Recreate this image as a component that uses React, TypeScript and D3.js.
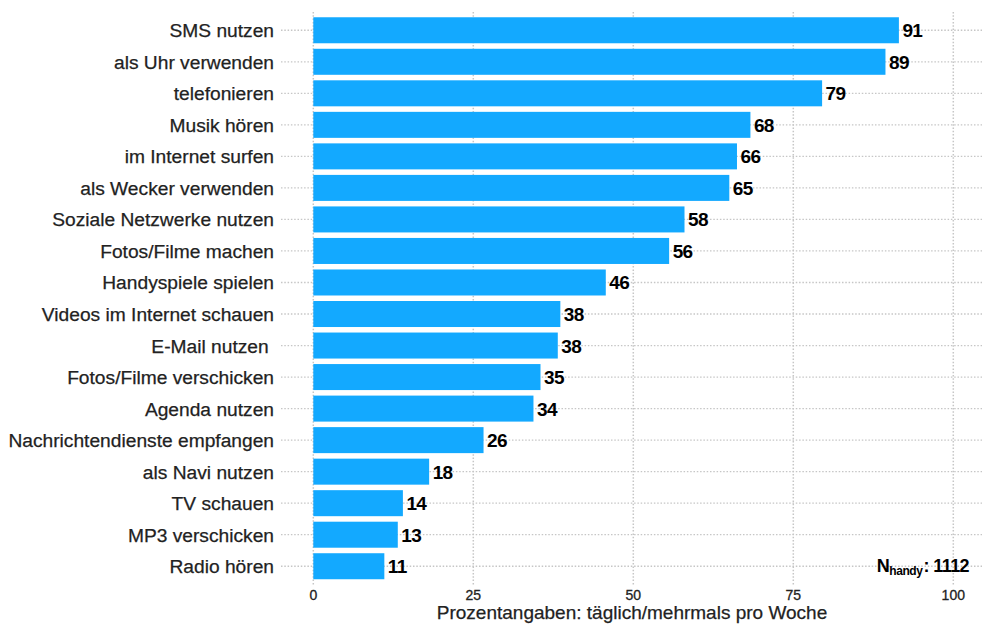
import React from "react";
import * as d3 from "d3";

const categories = [
  "SMS nutzen",
  "als Uhr verwenden",
  "telefonieren",
  "Musik hören",
  "im Internet surfen",
  "als Wecker verwenden",
  "Soziale Netzwerke nutzen",
  "Fotos/Filme machen",
  "Handyspiele spielen",
  "Videos im Internet schauen",
  "E-Mail nutzen ",
  "Fotos/Filme verschicken",
  "Agenda nutzen",
  "Nachrichtendienste empfangen",
  "als Navi nutzen",
  "TV schauen",
  "MP3 verschicken",
  "Radio hören",
];
const values = [91.5, 89.4, 79.5, 68.3, 66.2, 65.0, 58.0, 55.6, 45.7, 38.6, 38.2, 35.5, 34.4, 26.6, 18.1, 14.0, 13.2, 11.1];
const valueLabels = ["91", "89", "79", "68", "66", "65", "58", "56", "46", "38", "38", "35", "34", "26", "18", "14", "13", "11"];
const xTicks = [0, 25, 50, 75, 100];
const axisTitle = "Prozentangaben: täglich/mehrmals pro Woche";
const nLabel = "N";
const nSub = "handy";
const nValue = ": 1112";

const W = 982;
const H = 624;
const FONT = "'Liberation Sans', Arial, Helvetica, sans-serif";

export default function App() {
  const x = d3.scaleLinear().domain([0, 100]).range([313.3, 953.3]);
  const y = d3
    .scaleBand<string>()
    .domain(categories)
    .range([14.5, 582])
    .paddingInner(0.175)
    .paddingOuter(0.0875);
  const bw = y.bandwidth();
  const grid = "#c6c6c6";

  return (
    <svg
      width={W}
      height={H}
      style={{ position: "absolute", left: 0, top: 0, background: "#fff" }}
      fontFamily={FONT}
    >
      {/* horizontal gridlines */}
      {categories.map((c) => {
        const cy = (y(c) as number) + bw / 2;
        return (
          <line
            key={"h" + c}
            x1={281}
            x2={W}
            y1={cy}
            y2={cy}
            stroke={grid}
            strokeWidth={1.3}
            strokeDasharray="1.5 1.8"
          />
        );
      })}
      {/* vertical gridlines */}
      {xTicks.map((t) => (
        <line
          key={"v" + t}
          x1={x(t)}
          x2={x(t)}
          y1={12}
          y2={585}
          stroke={grid}
          strokeWidth={1.5}
          strokeDasharray="1.5 1.8"
        />
      ))}
      {/* bars */}
      {categories.map((c, i) => (
        <rect
          key={"b" + c}
          x={x(0)}
          y={y(c) as number}
          width={x(values[i]) - x(0)}
          height={bw}
          fill="#13a9ff"
        />
      ))}
      {/* category labels */}
      {categories.map((c) => (
        <text
          key={"l" + c}
          x={274}
          y={(y(c) as number) + bw / 2 + 7}
          textAnchor="end"
          fontSize={19.2}
          fill="#222"
          stroke="#222"
          strokeWidth={0.25}
          style={{ whiteSpace: "pre" }}
        >
          {c}
        </text>
      ))}
      {/* value labels */}
      {categories.map((c, i) => (
        <text
          key={"v" + c}
          x={x(values[i]) + 3.5}
          y={(y(c) as number) + bw / 2 + 7}
          fontSize={19}
          fontWeight="bold"
          fill="#000"
          letterSpacing={-0.6}
        >
          {valueLabels[i]}
        </text>
      ))}
      {/* x tick labels */}
      {xTicks.map((t) => (
        <text
          key={"t" + t}
          x={x(t)}
          y={600}
          textAnchor="middle"
          fontSize={14}
          fill="#222"
          stroke="#222"
          strokeWidth={0.3}
        >
          {t}
        </text>
      ))}
      {/* axis title */}
      <text
        x={632}
        y={619}
        textAnchor="middle"
        fontSize={19}
        fill="#222"
        stroke="#222"
        strokeWidth={0.25}
      >
        {axisTitle}
      </text>
      {/* N annotation */}
      <text x={969} y={572} textAnchor="end" fill="#000" fontSize={18} fontWeight="bold" letterSpacing={-0.6}>
        <tspan>{nLabel}</tspan>
        <tspan fontSize={12} dy={2.5} letterSpacing={-0.4}>{nSub}</tspan>
        <tspan dy={-2.5} dx={1}>{nValue}</tspan>
      </text>
    </svg>
  );
}
